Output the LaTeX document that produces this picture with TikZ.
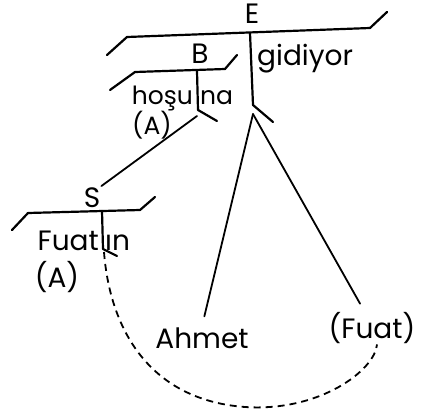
\documentclass[tikz,border=0pt]{standalone}
\usepackage{fontspec}
\newfontfamily\handfont{Poppins}
\usetikzlibrary{positioning,calc}
\newcommand{\hand}{\handfont\fontsize{28}{32}\selectfont}
\newcommand{\handsmall}{\handfont\fontsize{25}{29}\selectfont}

\begin{document}
\begin{tikzpicture}[x=1pt, y=-1pt,
  lbl/.style={font=\hand, inner sep=1pt},
  lblsmall/.style={font=\handsmall, inner sep=1pt},
  bar/.style={line width=2.2pt, line cap=round, line join=round},
  link/.style={line width=1.8pt, line cap=round},
  trace/.style={line width=1.8pt, dash pattern=on 7pt off 5pt}
]
\useasboundingbox (0,0) rectangle (433,415);

% E
\node[lbl, anchor=base] (E) at (252,23) {E};
\draw[bar] (107,55) -- (127,37) -- (370,28) -- (387,12);
\draw[bar] (250,33) -- (253,105) -- (273,122);
\coordinate (Etip) at (253,114);
\node[lbl, anchor=base west] (gidiyor) at (256,65) {gidiyor};

% B
\node[lbl, anchor=base] (B) at (200,63) {B};
\draw[bar] (110,90) -- (135,72) -- (225,69) -- (237,55);
\draw[bar] (197,71) -- (198,110) -- (217,121);
\coordinate (Btip) at (197,116);
\node[lblsmall, anchor=base east] (hosu) at (194,104) {hoşu};
\node[lblsmall, anchor=base west] (na) at (199,104) {na};
\node[lblsmall, anchor=base] (BA) at (152,134) {(A)};

% S
\node[lbl, anchor=base] (S) at (92,207) {S};
\draw[bar] (12,230) -- (28,213) -- (140,210) -- (155,197);
\draw[bar] (102,211) -- (103,249) -- (117,256);
\coordinate (Stip) at (104,252);
\node[lbl, anchor=base east] (fuat) at (100,250) {Fuat};
\node[lbl, anchor=base west] (in) at (104,250) {ın};
\node[lbl, anchor=base] (SA) at (57,287) {(A)};

% arguments
\node[lbl, anchor=base] (ahmet) at (202,348) {Ahmet};
\node[lbl, anchor=base] (fuatP) at (372,338) {(Fuat)};

\draw[link] (Btip) -- (S.north east);
\draw[link, shorten >=10pt] (Etip) -- (ahmet.north);
\draw[link, shorten >=8pt] (Etip) -- ([xshift=-8pt]fuatP.north);
\draw[trace] (Stip) .. controls (110,330) and (150,400) .. (245,407)
  .. controls (320,412) and (375,370) .. ([xshift=5pt]fuatP.south);
\end{tikzpicture}
\end{document}
